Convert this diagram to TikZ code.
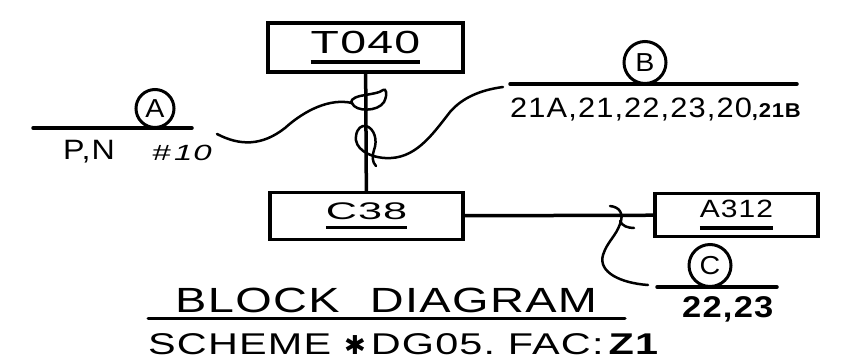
\documentclass[tikz,border=0pt]{standalone}
\usepackage{fontspec}
\setmainfont{Liberation Sans}
\newfontfamily\dingfont{DejaVu Sans}
\usetikzlibrary{positioning,calc}
\newcommand{\ulab}[2]{\setbox0=\hbox{#2}\vtop{\copy0\kern#1\hrule height 3.5pt}}
\newcommand{\hand}[2]{\fontsize{#1}{#1}\selectfont\addfontfeature{FakeStretch=#2,LetterSpace=4}}

\begin{document}
\begin{tikzpicture}[x=1pt,y=-1pt,line cap=round,
  blk/.style={draw,line width=3.5pt,inner sep=0pt},
  tag/.style={circle,draw,line width=3pt,inner sep=0pt,minimum size=#1,anchor=south,font=\hand{26}{1.1}},
  tag/.default=42pt,
  rule/.style={line width=3.5pt},
  wire/.style={line width=2.5pt},
  txt/.style={anchor=base west,inner sep=0pt}]
\fill[white] (0,0) rectangle (846,362);
\useasboundingbox (0,0) rectangle (846,362);
% blocks
\node[blk,minimum width=195pt,minimum height=49pt,font=\hand{32}{1.45}] (t040) at (365.5,47.5) {\ulab{6pt}{T040}};
\node[blk,minimum width=193pt,minimum height=47pt,font=\hand{24}{1.8}] (c38) at (366.5,216) {\ulab{6pt}{C38}};
\node[blk,minimum width=163pt,minimum height=43pt,font=\hand{25}{1.2}] (a312) at (736.5,215) {\ulab{8pt}{A312}};
\draw[rule] (t040) -- (c38);
\draw[rule] (c38) -- (a312);
% cable A
\coordinate (la1) at (33,128);
\coordinate (la2) at (192,128);
\draw[rule] (la1) -- (la2);
\node[tag=38pt] (ta) at (155,129) {A};
\node[txt,font=\hand{28}{1.15}] (pn) at (63,159) {P,N};
\node[txt,font=\hand{22}{1.5}\itshape] (n10) at (152,160) {\#\,10};
% cable B
\coordinate (lb1) at (510,84);
\coordinate (lb2) at (797,84);
\draw[rule] (lb1) -- (lb2);
\node[tag] (tb) at (645,85) {B};
\node[txt,font=\hand{28}{1.1}] (wlist) at (510,117) {21A,21,22,23,20{\hand{20}{1.1}\bfseries,21B}};
% cable C
\coordinate (lc1) at (657,287);
\coordinate (lc2) at (777,287);
\draw[rule] (lc1) -- (lc2);
\node[tag] (tc) at (710,288) {C};
\node[txt,font=\hand{30}{1.15}\bfseries] (clist) at (682,317) {22,23};
% wires
\coordinate (wa) at (217,134);
\coordinate (wb) at (503,87);
\coordinate (wc) at (648,285);
\draw[wire] (wa) .. controls (240,146) and (262,146) .. (285,128) .. controls (305,110) and (330,98) .. (352,103)
  .. controls (355,112) and (378,112) .. (384,102) .. controls (388,94) and (386,88) .. (383,90)
  .. controls (380,93) and (370,94) .. (360,96) .. controls (352,98) and (350,101) .. (352,104);
\draw[wire] (wb) .. controls (480,90) and (462,98) .. (450,112) .. controls (432,135) and (415,160) .. (385,158)
  .. controls (368,157) and (354,148) .. (356,136) .. controls (357,128) and (362,125) .. (366,126)
  .. controls (374,128) and (378,140) .. (374,150) .. controls (372,156) and (372,162) .. (376,166);
\draw[wire] (wc) .. controls (620,283) and (598,272) .. (603,255) .. controls (607,242) and (616,236) .. (620,224)
  .. controls (624,214) and (620,207) .. (610,206);
\coordinate (hk) at (620,221);
\coordinate (hk2) at (634,228);
\draw[wire] (hk) .. controls (622,226) and (628,228) .. (hk2);
% title
\node[txt,font=\hand{35}{1.34}] (ttl) at (175,312) {BLOCK\hspace{30pt}DIAGRAM};
\coordinate (ul1) at (148,318);
\coordinate (ul2) at (625,318);
\draw[line width=3pt] (ul1) -- (ul2);
\node[txt,font=\hand{30}{1.38}] (sch) at (148,354) {SCHEME {\dingfont\fontsize{26}{26}\selectfont ✱}\,DG05.\ FAC:\,{\bfseries Z1}};
\end{tikzpicture}
\end{document}
